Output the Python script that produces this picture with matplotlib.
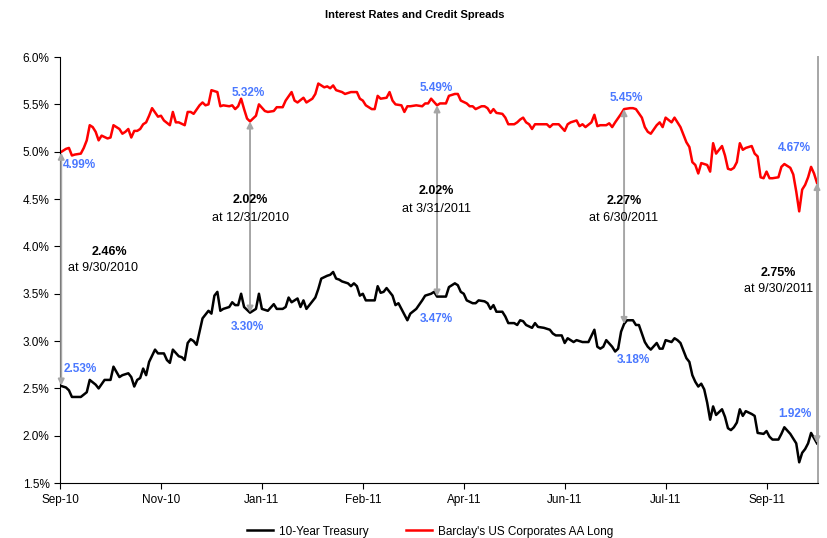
import numpy as np
import matplotlib
matplotlib.use("Agg")
import matplotlib.pyplot as plt
from matplotlib.ticker import FuncFormatter

plt.rcParams['font.family'] = ['Liberation Sans', 'DejaVu Sans']

# trading-day index (0 = 9/30/2010, 255 = 9/30/2011) and yields in %
corp_day = [0, 2, 3, 4, 5, 7, 8, 9, 10, 11, 12, 13, 14, 16, 17, 18, 20, 21, 22, 23,
            24, 25, 26, 27, 28, 29, 30, 31, 33, 34, 35, 37, 38, 39, 40, 42, 43, 44, 45, 47,
            48, 49, 50, 51, 53, 54, 55, 57, 58, 59, 60, 61, 62, 63, 64, 65, 66, 67, 69, 70,
            72, 73, 75, 76, 78, 79, 80, 82, 83, 85, 86, 87, 89, 90, 91, 92, 93, 95, 96, 98,
            100, 101, 102, 103, 105, 106, 107, 108, 110, 111, 112, 113, 115, 116, 117, 118, 120, 122, 123, 124,
            125, 127, 128, 130, 131, 133, 134, 135, 137, 138, 139, 140, 142, 143, 144, 145, 146, 147, 149, 150,
            151, 153, 154, 155, 156, 157, 158, 159, 160, 162, 164, 165, 166, 168, 170, 171, 172, 174, 175, 176,
            177, 179, 180, 181, 182, 184, 185, 186, 187, 189, 190, 192, 193, 194, 196, 197, 198, 199, 201, 202,
            203, 204, 206, 207, 208, 209, 211, 212, 213, 214, 215, 216, 218, 219, 220, 221, 223, 224, 225, 226,
            227, 228, 229, 230, 231, 233, 234, 235, 236, 237, 238, 239, 240, 242, 243, 244, 246, 247, 248, 249,
            250, 251, 252, 253, 254, 255]
corp_aa = [4.99, 5.03, 5.04, 4.96, 4.97, 4.98, 5.04, 5.12, 5.28, 5.26, 5.21, 5.12, 5.17, 5.14, 5.15, 5.28, 5.24, 5.19, 5.21, 5.24,
           5.15, 5.22, 5.22, 5.24, 5.29, 5.31, 5.38, 5.46, 5.37, 5.38, 5.33, 5.28, 5.42, 5.31, 5.31, 5.28, 5.42, 5.42, 5.40, 5.49,
           5.52, 5.49, 5.50, 5.65, 5.63, 5.48, 5.49, 5.48, 5.49, 5.45, 5.48, 5.56, 5.45, 5.35, 5.32, 5.35, 5.38, 5.50, 5.43, 5.42,
           5.43, 5.47, 5.47, 5.54, 5.63, 5.54, 5.52, 5.57, 5.52, 5.56, 5.61, 5.72, 5.68, 5.69, 5.67, 5.70, 5.65, 5.63, 5.61, 5.63,
           5.63, 5.56, 5.54, 5.49, 5.45, 5.45, 5.59, 5.56, 5.57, 5.63, 5.54, 5.50, 5.49, 5.42, 5.48, 5.48, 5.49, 5.48, 5.51, 5.51,
           5.56, 5.49, 5.51, 5.51, 5.59, 5.61, 5.61, 5.54, 5.51, 5.48, 5.48, 5.45, 5.48, 5.48, 5.46, 5.41, 5.45, 5.41, 5.40, 5.36,
           5.29, 5.29, 5.31, 5.34, 5.36, 5.31, 5.29, 5.24, 5.29, 5.29, 5.29, 5.26, 5.29, 5.29, 5.22, 5.29, 5.31, 5.33, 5.27, 5.29,
           5.26, 5.31, 5.39, 5.27, 5.28, 5.28, 5.30, 5.26, 5.31, 5.40, 5.45, 5.46, 5.46, 5.45, 5.36, 5.26, 5.21, 5.19, 5.28, 5.31,
           5.26, 5.36, 5.31, 5.36, 5.31, 5.26, 5.10, 5.05, 4.89, 4.86, 4.77, 4.88, 4.86, 4.79, 5.09, 4.98, 5.06, 4.96, 4.82, 4.81,
           4.83, 4.89, 5.09, 5.02, 5.04, 5.06, 4.98, 4.95, 4.73, 4.72, 4.79, 4.72, 4.72, 4.73, 4.84, 4.87, 4.83, 4.76, 4.58, 4.37,
           4.60, 4.65, 4.73, 4.84, 4.77, 4.67]

tsy_day = [0, 2, 3, 4, 7, 9, 10, 12, 13, 15, 17, 18, 20, 21, 23, 24, 25, 26, 27, 28,
           29, 30, 32, 33, 35, 36, 37, 38, 40, 41, 42, 43, 44, 45, 46, 48, 49, 50, 51, 52,
           53, 54, 55, 57, 58, 59, 60, 61, 62, 63, 64, 66, 67, 68, 70, 72, 73, 75, 76, 77,
           78, 80, 81, 82, 83, 84, 86, 87, 88, 90, 91, 92, 93, 94, 95, 97, 98, 99, 100, 101,
           102, 103, 105, 106, 107, 108, 109, 110, 112, 113, 114, 115, 117, 118, 120, 122, 123, 125, 126, 127,
           129, 130, 131, 133, 134, 135, 136, 137, 139, 140, 141, 143, 144, 145, 146, 147, 149, 150, 151, 153,
           154, 155, 156, 157, 159, 160, 161, 163, 165, 166, 167, 169, 170, 171, 173, 174, 176, 177, 178, 180,
           181, 182, 183, 184, 186, 187, 188, 189, 190, 191, 193, 194, 195, 196, 197, 198, 199, 201, 202, 203,
           204, 206, 207, 208, 209, 211, 212, 213, 214, 215, 216, 217, 218, 219, 220, 221, 223, 224, 225, 226,
           227, 228, 229, 230, 231, 233, 234, 235, 237, 238, 239, 240, 242, 243, 244, 246, 247, 248, 249, 250,
           251, 252, 253, 255]
treasury = [2.53, 2.51, 2.48, 2.41, 2.41, 2.46, 2.59, 2.54, 2.50, 2.59, 2.59, 2.73, 2.62, 2.64, 2.66, 2.62, 2.52, 2.59, 2.61, 2.71,
            2.64, 2.78, 2.91, 2.87, 2.87, 2.80, 2.77, 2.91, 2.84, 2.83, 2.80, 2.98, 3.02, 3.00, 2.96, 3.24, 3.28, 3.32, 3.29, 3.48,
            3.52, 3.32, 3.34, 3.36, 3.41, 3.38, 3.38, 3.50, 3.36, 3.33, 3.30, 3.34, 3.50, 3.34, 3.32, 3.39, 3.34, 3.34, 3.36, 3.46,
            3.41, 3.45, 3.36, 3.43, 3.34, 3.38, 3.46, 3.55, 3.66, 3.69, 3.70, 3.73, 3.66, 3.65, 3.63, 3.61, 3.58, 3.61, 3.58, 3.48,
            3.50, 3.43, 3.43, 3.43, 3.58, 3.51, 3.52, 3.56, 3.48, 3.38, 3.40, 3.34, 3.22, 3.29, 3.34, 3.43, 3.48, 3.50, 3.52, 3.47,
            3.47, 3.47, 3.57, 3.61, 3.59, 3.52, 3.50, 3.43, 3.40, 3.40, 3.43, 3.42, 3.40, 3.34, 3.38, 3.31, 3.31, 3.26, 3.19, 3.19,
            3.17, 3.22, 3.21, 3.17, 3.14, 3.19, 3.15, 3.14, 3.12, 3.08, 3.06, 3.06, 2.98, 3.03, 2.99, 3.01, 2.99, 2.99, 2.99, 3.12,
            2.94, 2.92, 2.94, 3.01, 2.94, 2.89, 2.92, 3.10, 3.18, 3.22, 3.22, 3.17, 3.17, 3.08, 2.99, 2.94, 2.91, 2.98, 2.92, 2.92,
            3.01, 2.99, 3.03, 3.01, 2.98, 2.82, 2.78, 2.64, 2.57, 2.52, 2.55, 2.49, 2.35, 2.17, 2.31, 2.22, 2.28, 2.20, 2.08, 2.06,
            2.09, 2.14, 2.28, 2.21, 2.26, 2.23, 2.21, 2.03, 2.02, 2.05, 1.99, 1.96, 1.96, 2.02, 2.09, 2.02, 1.97, 1.92, 1.72, 1.82,
            1.86, 1.92, 2.03, 1.92]

tick_days = [0, 34, 68, 102, 136, 170, 204, 238]
tick_labels = ['Sep-10', 'Nov-10', 'Jan-11', 'Feb-11', 'Apr-11', 'Jun-11', 'Jul-11', 'Sep-11']

# quarter-end comparisons
q_day = [0.4, 64, 127, 190, 255]
q_date = ['9/30/2010', '12/31/2010', '3/31/2011', '6/30/2011', '9/30/2011']
q_corp = [4.99, 5.32, 5.49, 5.45, 4.67]
q_tsy = [2.53, 3.30, 3.47, 3.18, 1.92]

blue = '#4a78ff'
grey = '#a6a6a6'

fig = plt.figure(figsize=(8.27, 5.38), dpi=100)
ax = fig.add_axes([0.0726, 0.102, 0.9164, 0.792])

ax.plot(tsy_day, treasury, color='black', lw=1.8, label='10-Year Treasury')
ax.plot(corp_day, corp_aa, color='#ff0000', lw=1.8, label="Barclay's US Corporates AA Long")

for d, c, t in zip(q_day, q_corp, q_tsy):
    ax.annotate('', xy=(d, c), xytext=(d, t),
                arrowprops=dict(arrowstyle='<|-|>', color=grey, lw=1.4,
                                mutation_scale=9, shrinkA=0, shrinkB=0))

# spread text
spread_pos = [(16.5, 3.94, 14.5, 3.77), (64.2, 4.49, 64.2, 4.30), (126.8, 4.58, 126.8, 4.40),
              (190, 4.48, 190, 4.30), (242, 3.72, 242, 3.55)]
for (bx, by, dx, dy), c, t, lab in zip(spread_pos, q_corp, q_tsy, q_date):
    ax.text(bx, by, f'{c - t:.2f}%', ha='center', va='center', fontsize=9, fontweight='bold')
    ax.text(dx, dy, f'at {lab}', ha='center', va='center', fontsize=9)

# value labels
corp_lab = [(6.7, 4.86), (63.4, 5.62), (126.8, 5.67), (190.6, 5.57), (247.5, 5.04)]
tsy_lab = [(6.7, 2.71), (63.2, 3.15), (126.8, 3.23), (193, 2.80), (247.5, 2.23)]
for (x, y), v in zip(corp_lab, q_corp):
    ax.text(x, y, f'{v:.2f}%', ha='center', va='center', fontsize=8.5, fontweight='bold', color=blue)
for (x, y), v in zip(tsy_lab, q_tsy):
    ax.text(x, y, f'{v:.2f}%', ha='center', va='center', fontsize=8.5, fontweight='bold', color=blue)

ax.set_xlim(0, 255.3)
ax.set_ylim(1.5, 6.0)
ax.set_yticks(np.arange(1.5, 6.01, 0.5))
ax.yaxis.set_major_formatter(FuncFormatter(lambda v, p: f'{v:.1f}%'))
ax.set_xticks(tick_days)
ax.set_xticklabels(tick_labels)
ax.tick_params(axis='both', labelsize=8.5, direction='out', length=4, width=0.8)
ax.tick_params(axis='x', pad=4)

ax.spines['top'].set_visible(False)
ax.spines['right'].set_color(grey)
ax.spines['right'].set_linewidth(1.4)

fig.text(0.502, 0.972, 'Interest Rates and Credit Spreads', ha='center', va='center',
         fontsize=8, fontweight='bold')
fig.legend(loc='center', bbox_to_anchor=(0.52, 0.012), ncol=2, frameon=False,
           fontsize=8.5, handlelength=2.2, handletextpad=0.5, columnspacing=3.2)

fig.savefig('out.png', dpi=100)
